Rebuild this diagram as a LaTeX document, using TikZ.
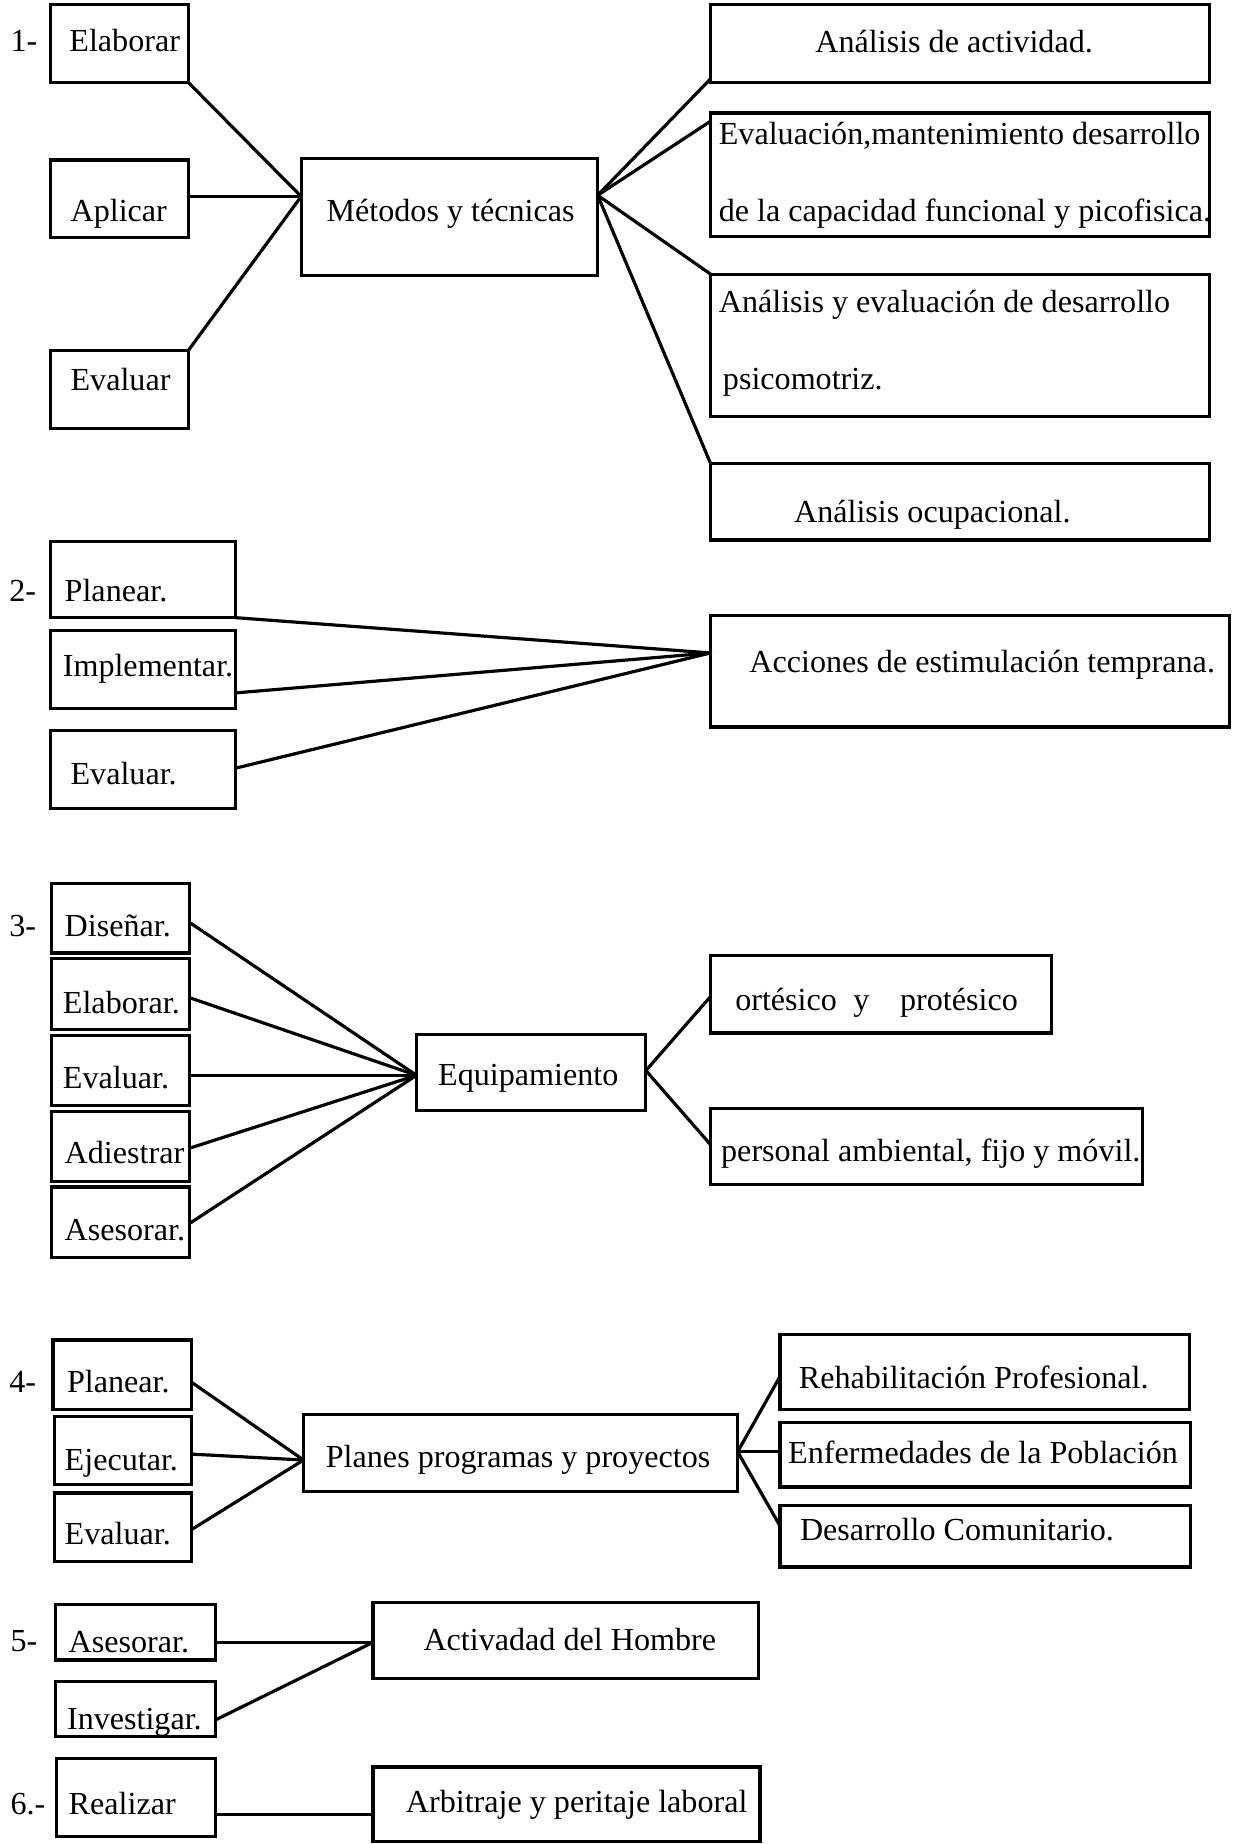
\documentclass[tikz,border=0pt]{standalone}
\usepackage{fontspec}
\setmainfont{Liberation Serif}
\usetikzlibrary{calc}
\tikzset{
  box/.style={draw=black, line width=2.7pt, rectangle, inner sep=0pt, outer sep=0pt, fill=none},
  txt/.style={inner sep=0pt, outer sep=0pt, font=\fontsize{27.3}{32}\selectfont},
  conn/.style={draw=black, line width=2.7pt, line cap=round, line join=round}
}
\newcommand{\mybox}[5]{\node[box, anchor=north west, minimum width={(#4-#2)*1pt}, minimum height={(#5-#3)*1pt}] (#1) at (#2,#3) {};}
\begin{document}
\begin{tikzpicture}[x=1pt,y=-1pt]
\useasboundingbox (0,0) rectangle (1047.2,1567.4);

% ---------- Section 1 ----------
\node[txt, anchor=base west] (lab1) at (9,44) {1-};
\mybox{e1}{43}{4}{160}{70}
\node[txt, anchor=base west] (te1) at (59,44) {Elaborar};
\mybox{a1}{43}{136}{160}{202}
\node[txt, anchor=base west] (ta1) at (60,188) {Aplicar};
\mybox{v1}{43}{298}{160}{364}
\node[txt, anchor=base west] (tv1) at (60,332) {Evaluar};
\mybox{met}{256}{135}{508}{234}
\node[txt, anchor=base] (tmet) at (383,188) {Métodos y técnicas};

\mybox{r1}{604}{4}{1028}{70}
\node[txt, anchor=base] (tr1) at (811,45) {Análisis de actividad.};
\mybox{r2}{604}{96}{1028}{201}
\node[txt, anchor=base west] (tr2a) at (611,123) {Evaluación,mantenimiento desarrollo};
\node[txt, anchor=base west] (tr2b) at (611,188) {de la capacidad funcional y picofisica.};
\mybox{r3}{604}{233}{1028}{354}
\node[txt, anchor=base west] (tr3a) at (611,266) {Análisis y evaluación de desarrollo};
\node[txt, anchor=base west] (tr3b) at (614.5,331) {psicomotriz.};
\mybox{r4}{604}{394}{1028}{459}
\node[txt, anchor=base west] (tr4) at (675,444) {Análisis ocupacional.};

\coordinate (ML) at ($(met.north west)+(0,32)$);
\coordinate (MR) at ($(met.north east)+(0,31)$);
\draw[conn] (e1.south east) -- (ML);
\draw[conn] (a1.east |- ML) -- (ML);
\draw[conn] (v1.north east) -- (ML);
\draw[conn] (MR) -- ($(r1.south west)+(0,-3)$);
\draw[conn] (MR) -- ($(r2.north west)+(0,7)$);
\draw[conn] (MR) -- (r3.north west);
\draw[conn] (MR) -- (r4.north west);

% ---------- Section 2 ----------
\node[txt, anchor=base west] (lab2) at (8,511) {2-};
\mybox{p2}{43}{460}{200}{525}
\node[txt, anchor=base west] (tp2) at (55,511) {Planear.};
\mybox{i2}{43}{536}{200}{602}
\node[txt, anchor=base west] (ti2) at (53.4,574.6) {Implementar.};
\mybox{v2}{43}{621}{200}{687}
\node[txt, anchor=base west] (tv2) at (60,666.7) {Evaluar.};
\mybox{acc}{604}{523}{1045}{618}
\node[txt, anchor=base west] (tacc) at (637,572) {Acciones de estimulación temprana.};

\coordinate (AC) at ($(acc.north west)+(0,32)$);
\draw[conn] (p2.south east) -- (AC);
\draw[conn] ($(i2.north east)+(0,53)$) -- (AC);
\draw[conn] ($(v2.north east)+(0,32)$) -- (AC);

% ---------- Section 3 ----------
\node[txt, anchor=base west] (lab3) at (8,796) {3-};
\mybox{d3}{44}{751}{161}{810}
\node[txt, anchor=base west] (td3) at (55,796) {Diseñar.};
\mybox{e3}{44}{815}{161}{875}
\node[txt, anchor=base west] (te3) at (53.5,861.6) {Elaborar.};
\mybox{v3}{44}{880}{161}{940}
\node[txt, anchor=base west] (tv3) at (53.5,925.4) {Evaluar.};
\mybox{a3}{44}{945}{161}{1004}
\node[txt, anchor=base west] (ta3) at (55,989) {Adiestrar};
\mybox{s3}{44}{1009}{161}{1069}
\node[txt, anchor=base west] (ts3) at (55,1054) {Asesorar.};
\mybox{eq}{354}{879}{549}{944}
\node[txt, anchor=base] (teq) at (449,923) {Equipamiento};
\mybox{ort}{604}{812}{894}{878}
\node[txt, anchor=base west] (tort) at (625,858.5) {ortésico\hspace{14pt}y\hspace{26pt}protésico};
\mybox{pers}{604}{942}{971}{1007}
\node[txt, anchor=base west] (tpers) at (613,987) {personal ambiental, fijo y móvil.};

\coordinate (EL) at ($(eq.north west)+(0,35)$);
\coordinate (ER) at ($(eq.north east)+(0,31)$);
\draw[conn] ($(d3.north east)+(0,33)$) -- (EL);
\draw[conn] ($(e3.north east)+(0,33)$) -- (EL);
\draw[conn] (v3.east |- EL) -- (EL);
\draw[conn] ($(a3.north east)+(0,31)$) -- (EL);
\draw[conn] ($(s3.north east)+(0,31)$) -- (EL);
\draw[conn] (ER) -- ($(ort.north west)+(0,35)$);
\draw[conn] (ER) -- ($(pers.north west)+(0,31)$);

% ---------- Section 4 ----------
\node[txt, anchor=base west] (lab4) at (8,1184) {4-};
\mybox{p4}{45}{1139}{163}{1198}
\node[txt, anchor=base west] (tp4) at (57,1184) {Planear.};
\mybox{j4}{46}{1204}{163}{1262}
\node[txt, anchor=base west] (tj4) at (55,1249.5) {Ejecutar.};
\mybox{v4}{46}{1269}{163}{1327}
\node[txt, anchor=base west] (tv4) at (55,1313) {Evaluar.};
\mybox{pl}{258}{1202}{627}{1268}
\node[txt, anchor=base west] (tpl) at (277,1247) {Planes programas y proyectos};
\mybox{reh}{663}{1134}{1011}{1198}
\node[txt, anchor=base west] (treh) at (679,1180) {Rehabilitación Profesional.};
\mybox{enf}{663}{1209}{1012}{1264}
\node[txt, anchor=base west] (tenf) at (670,1244) {Enfermedades de la Población};
\mybox{des}{663}{1280}{1012}{1332}
\node[txt, anchor=base west] (tdes) at (680,1309) {Desarrollo Comunitario.};

\coordinate (PL) at ($(pl.north west)+(0,39)$);
\coordinate (PR) at ($(pl.north east)+(0,32)$);
\draw[conn] ($(p4.north east)+(0,36)$) -- (PL);
\draw[conn] ($(j4.north east)+(0,32)$) -- (PL);
\draw[conn] ($(v4.north east)+(0,31)$) -- (PL);
\draw[conn] (PR) -- ($(reh.north west)+(0,36)$);
\draw[conn] (PR) -- (enf.west |- PR);
\draw[conn] (PR) -- ($(des.north west)+(0,17)$);

% ---------- Section 5 ----------
\node[txt, anchor=base west] (lab5) at (9,1404) {5-};
\mybox{as5}{47}{1364}{183}{1411}
\node[txt, anchor=base west] (tas5) at (58.4,1405) {Asesorar.};
\mybox{in5}{47}{1429}{183}{1476}
\node[txt, anchor=base west] (tin5) at (57,1470) {Investigar.};
\mybox{act}{317}{1362}{645}{1427}
\node[txt, anchor=base west] (tact) at (360,1403) {Activadad del Hombre};

\coordinate (AL) at ($(act.north west)+(0,34)$);
\draw[conn] (as5.east |- AL) -- (AL);
\draw[conn] ($(in5.north east)+(0,33)$) -- (AL);

% ---------- Section 6 ----------
\node[txt, anchor=base west] (lab6) at (9,1542.5) {6.-};
\mybox{re6}{48}{1495}{183}{1561}
\node[txt, anchor=base west] (tre6) at (58.4,1542.5) {Realizar};
\mybox{arb}{317}{1502}{646}{1565}
\node[txt, anchor=base west] (tarb) at (345,1541) {Arbitraje y peritaje laboral};

\coordinate (AR) at ($(arb.north west)+(0,40)$);
\draw[conn] (re6.east |- AR) -- (AR);
\end{tikzpicture}
\end{document}
